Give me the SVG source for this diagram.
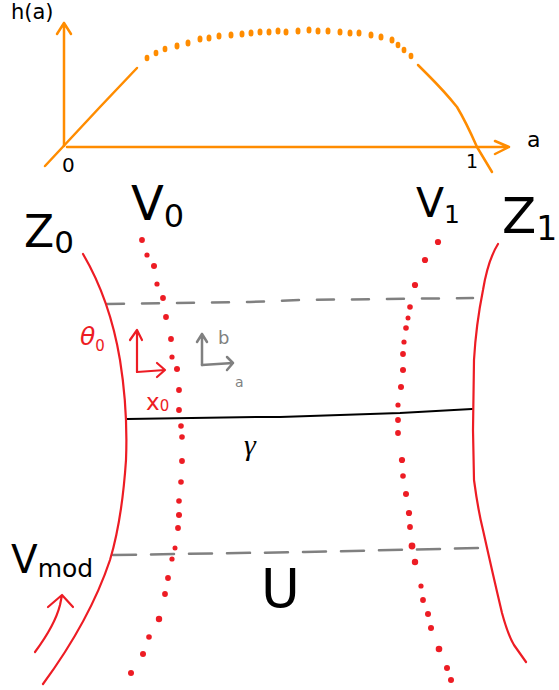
<svg xmlns="http://www.w3.org/2000/svg" width="559" height="690" viewBox="0 0 559 690">
<style>
.bg{fill:#fff}
.o{fill:none;stroke:#ff8c00;stroke-width:2.5;stroke-linecap:round;stroke-linejoin:round}
.od{fill:#ff8c00}
.r{fill:none;stroke:#ed1c24;stroke-width:2.2;stroke-linecap:round;stroke-linejoin:round}
.rd{fill:#ed1c24}
.g{fill:none;stroke:#808080;stroke-width:2.5;stroke-linecap:round;stroke-linejoin:round}
.gd{fill:none;stroke:#808080;stroke-width:2.5;stroke-linecap:round}
.k{fill:none;stroke:#000;stroke-width:2;stroke-linecap:round}
.t{font-family:"DejaVu Sans",Verdana,sans-serif;fill:#000}
.tr{font-family:"DejaVu Sans",sans-serif;fill:#ed1c24}
.tg{font-family:"DejaVu Sans",sans-serif;fill:#808080}
</style>
<rect class="bg" width="559" height="690"/>

<g id="plot">
  <path class="o" d="M64,146 L64,23 M57,34 L64,23 L71,34"/>
  <path class="o" d="M67,147 L509,147 M495,141 L509,147 L495,154"/>
  <path class="o" d="M45,166 L100,107 L137,68"/>
  <path class="o" d="M418,65 L428,75 Q445,92 457,107 Q466,122 477,147 L492,172"/>
  <g class="od">
    <ellipse cx="147" cy="58" rx="2.4" ry="3.2"/>
    <ellipse cx="156" cy="53" rx="2.4" ry="3.2"/>
    <ellipse cx="165" cy="49" rx="2.4" ry="3.2"/>
    <ellipse cx="177" cy="46" rx="2.5" ry="3.4"/>
    <ellipse cx="188" cy="43" rx="2.5" ry="3.5"/>
    <ellipse cx="200" cy="39" rx="2.5" ry="3.5"/>
    <ellipse cx="209" cy="38" rx="2.5" ry="3.5"/>
    <ellipse cx="219" cy="36" rx="2.5" ry="3.5"/>
    <ellipse cx="231" cy="35" rx="2.5" ry="3.5"/>
    <ellipse cx="242" cy="34" rx="2.5" ry="3.5"/>
    <ellipse cx="251" cy="33" rx="2.5" ry="3.5"/>
    <ellipse cx="260" cy="32" rx="2.5" ry="3.5"/>
    <ellipse cx="269" cy="32" rx="2.5" ry="3.5"/>
    <ellipse cx="278" cy="31" rx="2.5" ry="3.5"/>
    <ellipse cx="286" cy="32" rx="2.5" ry="3.5"/>
    <ellipse cx="298" cy="31" rx="2.5" ry="3.5"/>
    <ellipse cx="309" cy="30" rx="2.5" ry="3.5"/>
    <ellipse cx="318" cy="31" rx="2.5" ry="3.5"/>
    <ellipse cx="328" cy="31" rx="2.5" ry="3.5"/>
    <ellipse cx="340" cy="32" rx="2.5" ry="3.5"/>
    <ellipse cx="350" cy="33" rx="2.5" ry="3.5"/>
    <ellipse cx="359" cy="33" rx="2.5" ry="3.5"/>
    <ellipse cx="371" cy="35" rx="2.5" ry="3.5"/>
    <ellipse cx="381" cy="37" rx="2.5" ry="3.5"/>
    <ellipse cx="392" cy="40" rx="2.5" ry="3.5"/>
    <ellipse cx="398" cy="45" rx="2.4" ry="3.2"/>
    <ellipse cx="404" cy="50" rx="2.4" ry="3.2"/>
    <ellipse cx="411" cy="56" rx="2.4" ry="3.2"/>
  </g>
  <text class="t" x="11" y="19" font-size="21">h(a)</text>
  <text class="t" x="62" y="172" font-size="20">0</text>
  <text class="t" x="466" y="168" font-size="19">1</text>
  <text class="t" x="527" y="147" font-size="22">a</text>
</g>

<g id="dashed-lines">
  <path class="gd" stroke-dasharray="17 18" d="M107,304 L250,302 L300,300 L473,298"/>
  <path class="gd" stroke-dasharray="23 15" d="M113,555 L305,552 L478,548"/>
</g>

<g id="gamma-line">
  <path class="k" d="M127,419 L260,417 L280,417 L400,413 L472,409"/>
  <text x="244" y="455" font-size="30" font-family="Liberation Serif,serif" font-style="italic" fill="#000">γ</text>
</g>

<g id="Z0">
  <path class="r" d="M83,254 Q110,300 120,360 Q128,410 126,460 Q122,520 110,560 Q90,620 43,684"/>
  <text class="t" x="24" y="247" font-size="44">Z<tspan font-size="31" dy="6">0</tspan></text>
</g>

<g id="Z1">
  <path class="r" d="M498,244 Q488,260 483,290 Q476,325 474,360 L473,430 L474,480 Q478,510 483,530 Q493,575 502,613 Q508,635 514,645 L526,662"/>
  <text class="t" x="502" y="233" font-size="50">Z<tspan font-size="33" dy="7">1</tspan></text>
</g>

<g id="V0">
  <g class="rd">
    <circle cx="142" cy="240" r="2.9"/><circle cx="147" cy="255" r="2.6"/><circle cx="154" cy="266" r="3"/>
    <circle cx="157" cy="284" r="2.6"/><circle cx="163" cy="298" r="2.9"/><circle cx="166" cy="317" r="2.9"/>
    <circle cx="171" cy="339" r="2.9"/><circle cx="172" cy="357" r="2.6"/><circle cx="177" cy="369" r="3"/>
    <circle cx="179" cy="390" r="2.9"/><circle cx="179" cy="410" r="2.9"/><circle cx="181" cy="426" r="2.8"/>
    <circle cx="182" cy="437" r="2.8"/><circle cx="182" cy="461" r="2.9"/><circle cx="181" cy="482" r="2.8"/>
    <circle cx="179" cy="501" r="2.8"/><circle cx="179" cy="515" r="3"/><circle cx="178" cy="528" r="2.9"/>
    <circle cx="175" cy="548" r="2.5"/><circle cx="172" cy="559" r="2.6"/><circle cx="168" cy="578" r="2.9"/>
    <circle cx="165" cy="594" r="2.9"/><circle cx="159" cy="619" r="3.2"/><circle cx="149" cy="637" r="2.8"/>
    <circle cx="143" cy="654" r="3"/><circle cx="131" cy="673" r="3"/>
  </g>
  <text class="t" x="131" y="220" font-size="48">V<tspan font-size="32" dy="7">0</tspan></text>
</g>

<g id="V1">
  <g class="rd">
    <circle cx="438" cy="242" r="3.1"/><circle cx="425" cy="260" r="3.1"/><circle cx="415" cy="285" r="3.1"/>
    <circle cx="410" cy="307" r="2.8"/><circle cx="408" cy="318" r="2.5"/><circle cx="406" cy="328" r="2.8"/>
    <circle cx="404" cy="342" r="2.6"/><circle cx="403" cy="354" r="2.9"/><circle cx="403" cy="370" r="3"/>
    <circle cx="401" cy="387" r="3"/><circle cx="398" cy="405" r="2.6"/><circle cx="398" cy="420" r="2.9"/>
    <circle cx="398" cy="433" r="2.9"/><circle cx="402" cy="460" r="3.1"/><circle cx="403" cy="476" r="2.8"/>
    <circle cx="406" cy="494" r="3"/><circle cx="409" cy="513" r="3.1"/><circle cx="410" cy="527" r="2.9"/>
    <circle cx="412" cy="546" r="3.4"/><circle cx="415" cy="562" r="3.2"/><circle cx="421" cy="586" r="2.6"/>
    <circle cx="423" cy="600" r="2.9"/><circle cx="428" cy="614" r="3"/><circle cx="431" cy="628" r="3"/>
    <circle cx="439" cy="649" r="3.3"/><circle cx="447" cy="668" r="3"/><circle cx="451" cy="680" r="3"/>
  </g>
  <text class="t" x="416" y="217" font-size="41">V<tspan font-size="25" dy="6">1</tspan></text>
</g>

<g id="theta0-frame">
  <path class="r" d="M137,372 L137,330 M130,340 L137,330 L142,340"/>
  <path class="r" d="M137,372 L165,370 M157,363 L165,370 L157,377"/>
  <text class="tr" x="80" y="345" font-size="25" font-style="italic">θ<tspan font-size="15" font-style="normal" dy="6">0</tspan></text>
  <text class="tr" x="146" y="410" font-size="23">x<tspan font-size="15" dy="1">0</tspan></text>
</g>

<g id="ab-frame">
  <path class="g" d="M202,365 L202,334 M197,342 L202,334 L207,342"/>
  <path class="g" d="M202,365 L233,363 M227,357 L233,363 L227,370"/>
  <text class="tg" x="218" y="344" font-size="18">b</text>
  <text class="tg" x="235" y="387" font-size="14">a</text>
</g>

<g id="Vmod">
  <path class="r" d="M35,652 Q55,625 60,605 L62,595 M48,607 L62,595 L73,607"/>
  <text class="t" x="11" y="573" font-size="39">V<tspan font-size="25" dy="4">mod</tspan></text>
</g>

<g id="U">
  <text class="t" x="261" y="607" font-size="53">U</text>
</g>
</svg>
